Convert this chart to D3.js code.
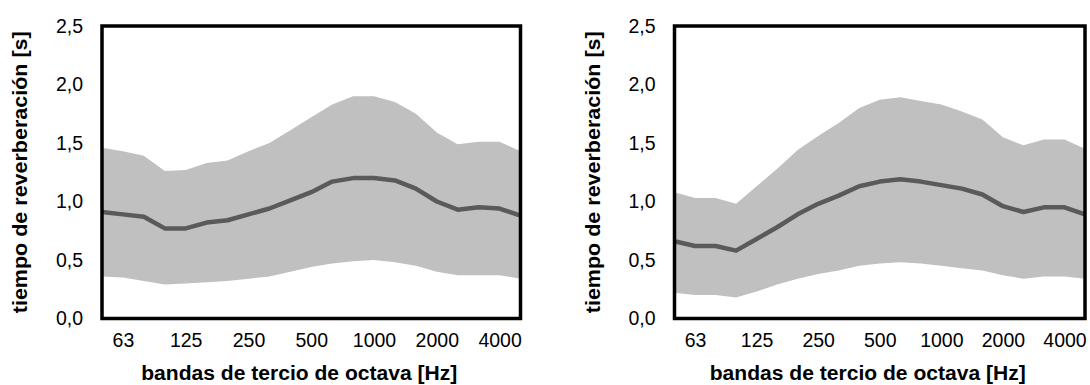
<!DOCTYPE html>
<meta charset="utf-8">
<style>
body { margin: 0; background: #fff; }
text { font-family: Arial, "Liberation Sans", sans-serif; }
.tick text { font-size: 19.5px; fill: #000; }
.title { font-size: 20px; font-weight: bold; }
</style>
<svg width="1090" height="385"></svg>
<script src="https://cdn.jsdelivr.net/npm/d3@7"></script>
<script>

// third-octave bands (Hz)
var bands = ["50","63","80","100","125","160","200","250","315","400","500",
  "630","800","1000","1250","1600","2000","2500","3150","4000","5000"];
var bandLabels = ["63","125","250","500","1000","2000","4000"];
var yTicks = [0, 0.5, 1.0, 1.5, 2.0, 2.5];

// left chart
var upperA = [1.46,1.43,1.39,1.26,1.27,1.33,1.35,1.43,1.50,1.61,1.72,1.83,1.90,1.90,1.85,1.75,1.59,1.49,1.51,1.51,1.43];
var meanA  = [0.91,0.89,0.87,0.77,0.77,0.82,0.84,0.89,0.94,1.01,1.08,1.17,1.20,1.20,1.18,1.11,1.00,0.93,0.95,0.94,0.88];
var lowerA = [0.36,0.35,0.32,0.29,0.30,0.31,0.32,0.34,0.36,0.40,0.44,0.47,0.49,0.50,0.48,0.45,0.40,0.37,0.37,0.37,0.34];

// right chart
var upperB = [1.08,1.03,1.03,0.98,1.13,1.28,1.44,1.56,1.67,1.80,1.87,1.89,1.86,1.83,1.77,1.70,1.55,1.48,1.53,1.53,1.45];
var meanB  = [0.66,0.62,0.62,0.58,0.68,0.78,0.89,0.98,1.05,1.13,1.17,1.19,1.17,1.14,1.11,1.06,0.96,0.91,0.95,0.95,0.89];
var lowerB = [0.22,0.20,0.20,0.18,0.23,0.29,0.34,0.38,0.41,0.45,0.47,0.48,0.47,0.45,0.43,0.41,0.37,0.34,0.36,0.36,0.34];

var svg = d3.select("svg");
var fmt = function(d){ return d3.format(".1f")(d).replace(".", ","); };

function panel(left, right, top, bottom, upper, mean, lower) {
  var x = d3.scalePoint().domain(bands).range([left, right]);
  var y = d3.scaleLinear().domain([0, 2.5]).range([bottom, top]);
  var g = svg.append("g");

  var rows = bands.map(function(b, i){ return {b: b, hi: upper[i], m: mean[i], lo: lower[i]}; });

  g.append("path")
    .datum(rows)
    .attr("fill", "#c0c0c0")
    .attr("d", d3.area().x(function(d){ return x(d.b); })
      .y0(function(d){ return y(d.lo); })
      .y1(function(d){ return y(d.hi); }));

  g.append("path")
    .datum(rows)
    .attr("fill", "none")
    .attr("stroke", "#5a5a5a")
    .attr("stroke-width", 4.5)
    .attr("stroke-linejoin", "round")
    .attr("d", d3.line().x(function(d){ return x(d.b); }).y(function(d){ return y(d.m); }));

  // plot frame
  g.append("rect")
    .attr("x", left).attr("y", top)
    .attr("width", right - left).attr("height", bottom - top)
    .attr("fill", "none").attr("stroke", "#000").attr("stroke-width", 3.5);

  var ya = g.append("g")
    .attr("transform", "translate(" + (left - 19) + ",0)")
    .call(d3.axisLeft(y).tickValues(yTicks).tickFormat(fmt).tickSize(0).tickPadding(0));
  ya.select(".domain").remove();

  var xa = g.append("g")
    .attr("transform", "translate(0," + (bottom + 15) + ")")
    .call(d3.axisBottom(x).tickValues(bandLabels).tickSize(0).tickPadding(0));
  xa.select(".domain").remove();

  g.append("text").attr("class", "title")
    .attr("text-anchor", "middle")
    .attr("x", (left + right) / 2 - 12).attr("y", 380)
    .attr("textLength", 316).attr("lengthAdjust", "spacingAndGlyphs")
    .text("bandas de tercio de octava [Hz]");

  g.append("text").attr("class", "title")
    .attr("text-anchor", "middle")
    .attr("transform", "translate(" + (left - 75) + "," + ((top + bottom) / 2) + ") rotate(-90)")
    .attr("textLength", 282).attr("lengthAdjust", "spacingAndGlyphs")
    .text("tiempo de reverberación [s]");
}

panel(102, 520.5, 26, 318.5, upperA, meanA, lowerA);
panel(674.5, 1085, 26, 318.5, upperB, meanB, lowerB);

</script>
